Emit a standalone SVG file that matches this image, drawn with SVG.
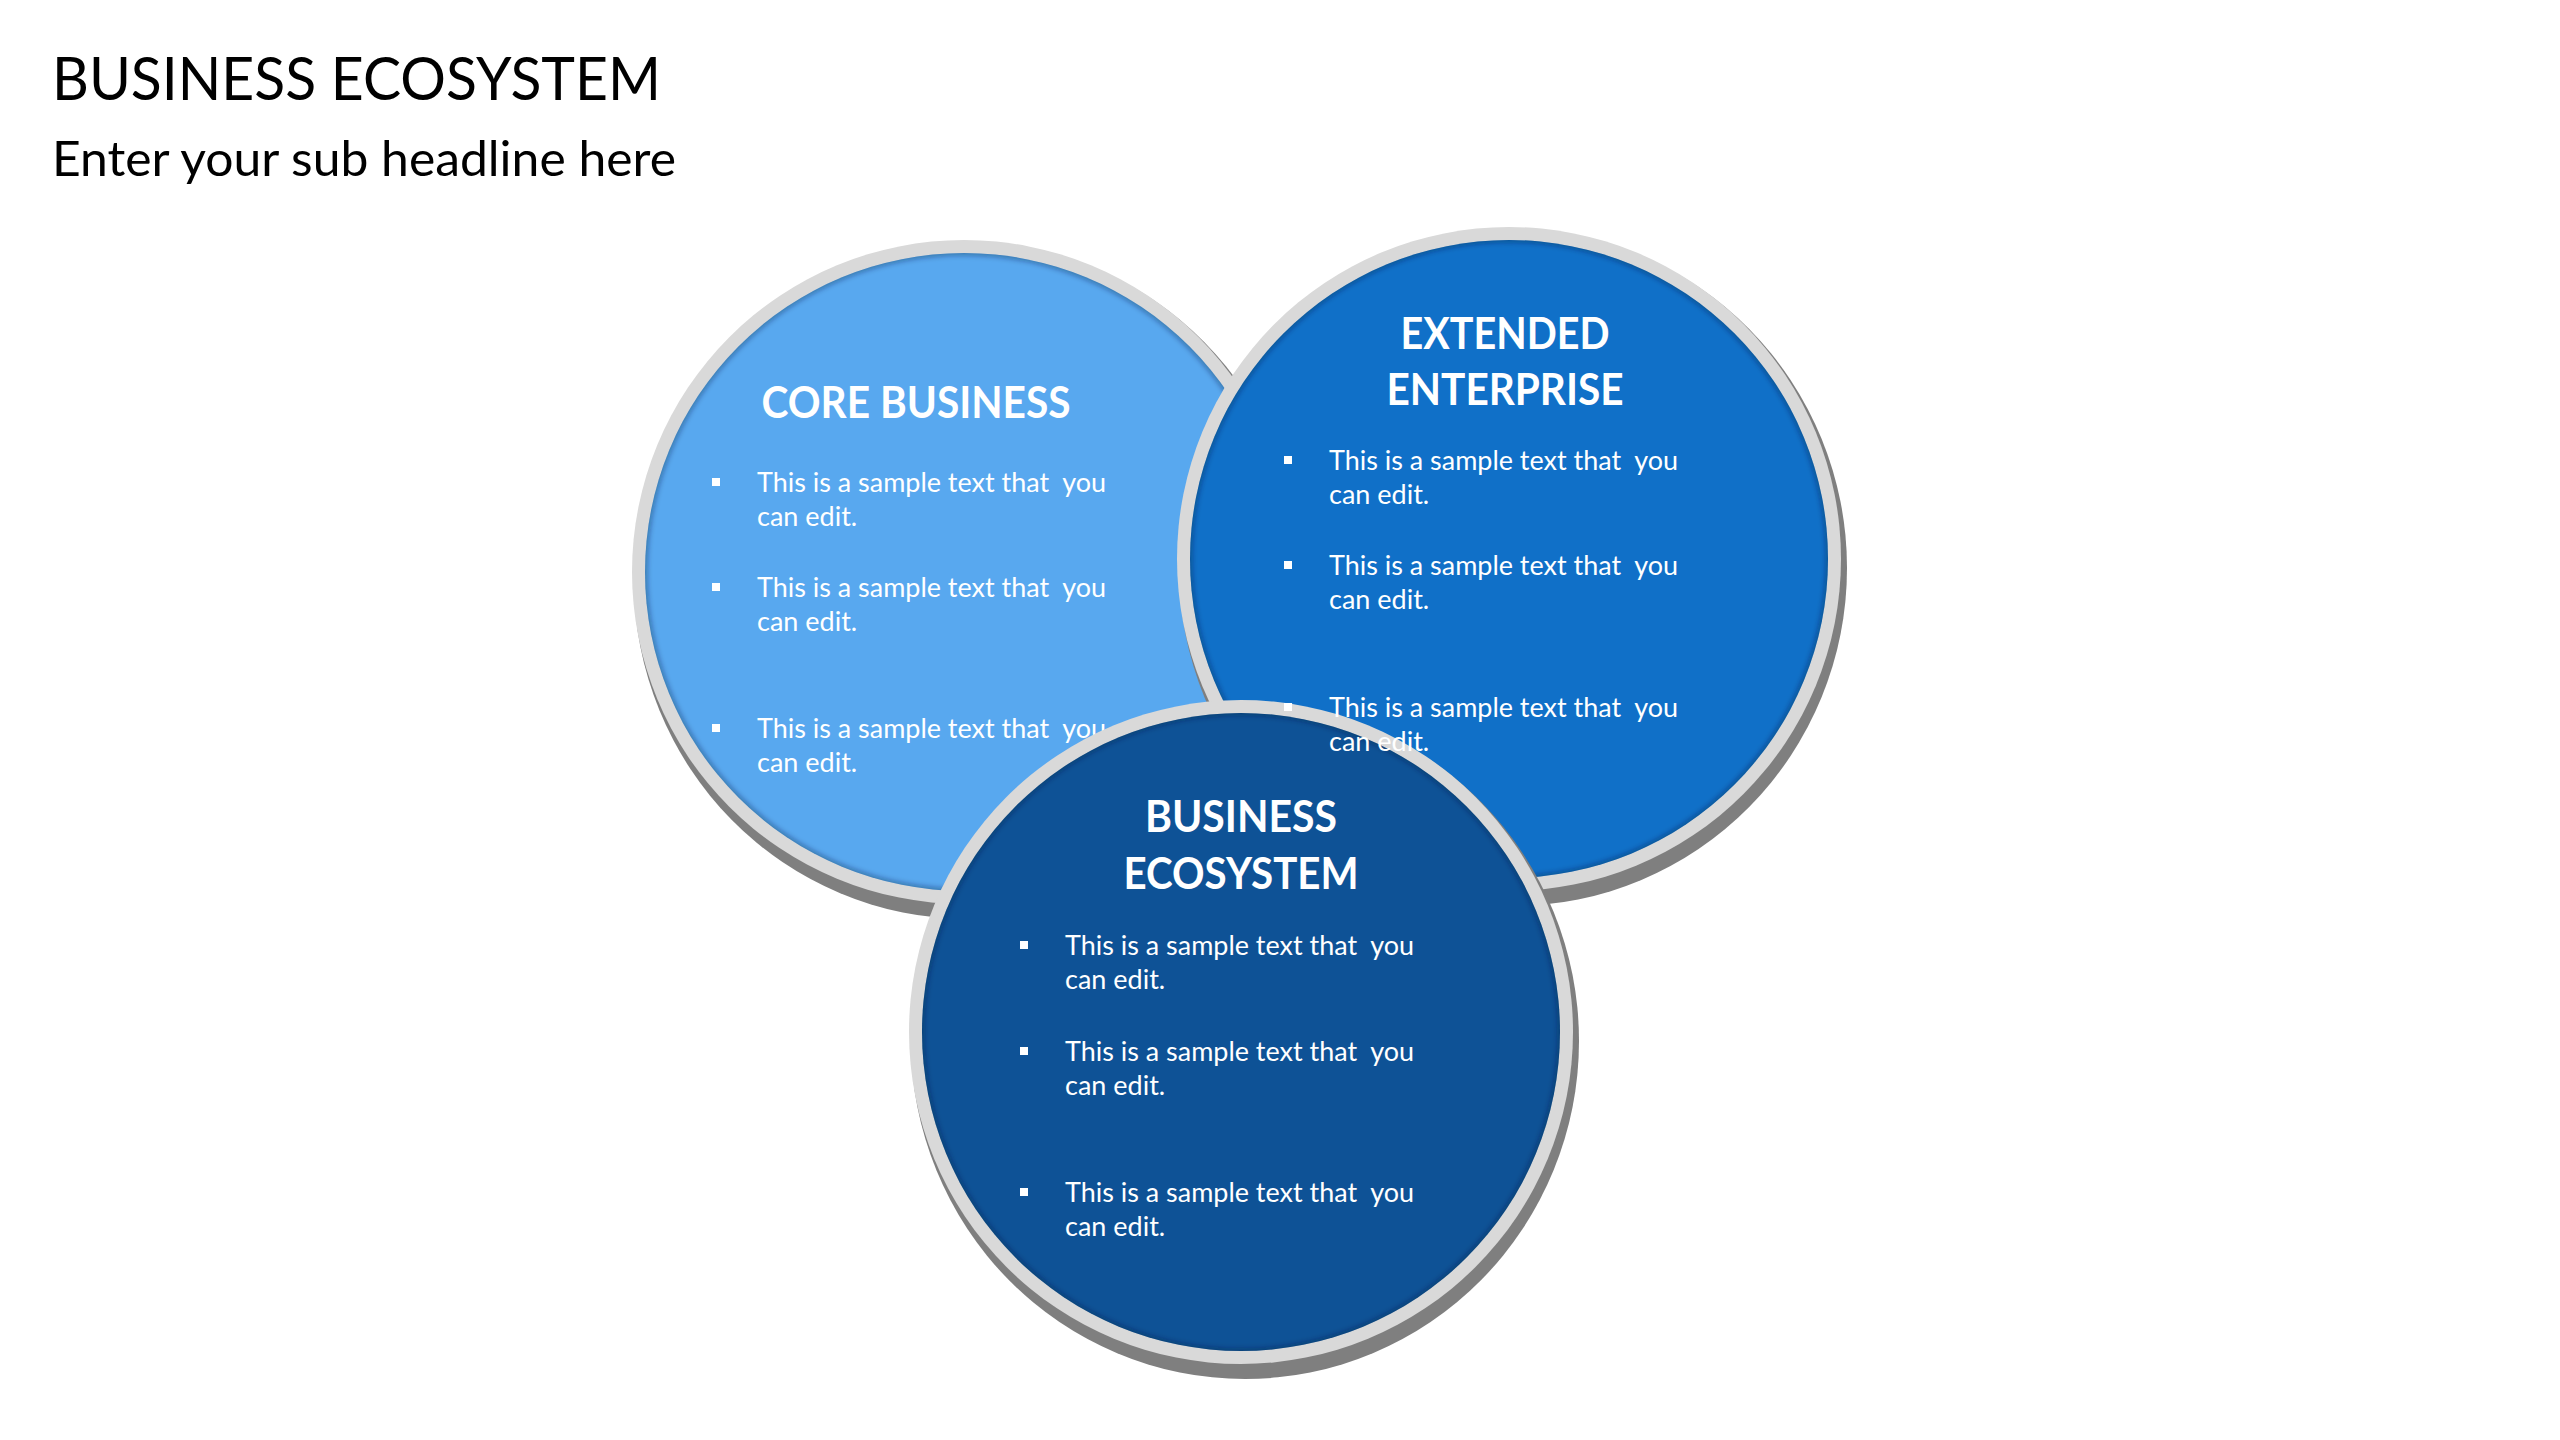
<svg xmlns="http://www.w3.org/2000/svg" width="2560" height="1440" viewBox="0 0 2560 1440">
  <defs>
    <style>
      .title { font-family: Lato, "Liberation Sans", sans-serif; fill: #000; }
      .head { font-family: Lato, "Liberation Sans", sans-serif; font-weight: bold; font-size: 43px; fill: #fff; text-anchor: middle; }
      .body { font-family: Lato, "Liberation Sans", sans-serif; font-size: 27px; fill: #fff; white-space: pre; }
      .bullet { fill: #fff; }
      .ring { fill: #D9D9D9; }
      .shadow { fill: #7F7F7F; }
      .inner-shade { fill: none; stroke: #00203f; stroke-opacity: 0.35; stroke-width: 7; }
    </style>
    <filter id="blur" x="-10%" y="-10%" width="120%" height="120%">
      <feGaussianBlur stdDeviation="2.5"/>
    </filter>
    <clipPath id="clipCore"><circle cx="964" cy="572" r="319"/></clipPath>
    <clipPath id="clipExt"><circle cx="1509" cy="559" r="319"/></clipPath>
    <clipPath id="clipEco"><circle cx="1241" cy="1032" r="319"/></clipPath>
  </defs>

  <rect width="2560" height="1440" fill="#fff"/>

  <g id="header">
    <text class="title" x="52" y="100" font-size="60" textLength="609" lengthAdjust="spacingAndGlyphs">BUSINESS ECOSYSTEM</text>
    <text class="title" x="52" y="176" font-size="48" textLength="624" lengthAdjust="spacingAndGlyphs">Enter your sub headline here</text>
  </g>

  <g id="core-business">
    <ellipse class="shadow" cx="968" cy="581" rx="334" ry="338"/>
    <circle class="ring" cx="964" cy="572" r="332"/>
    <circle cx="964" cy="572" r="319" fill="#58A8EF"/>
    <g clip-path="url(#clipCore)"><circle class="inner-shade" cx="964" cy="572" r="320" filter="url(#blur)"/></g>
    <text class="head" x="916" y="418" textLength="309" lengthAdjust="spacingAndGlyphs">CORE BUSINESS</text>
    <rect class="bullet" x="712" y="478" width="8" height="8"/>
    <text class="body" x="757" y="492" textLength="349" lengthAdjust="spacingAndGlyphs">This is a sample text that  you</text>
    <text class="body" x="757" y="526">can edit.</text>
    <rect class="bullet" x="712" y="583" width="8" height="8"/>
    <text class="body" x="757" y="597" textLength="349" lengthAdjust="spacingAndGlyphs">This is a sample text that  you</text>
    <text class="body" x="757" y="631">can edit.</text>
    <rect class="bullet" x="712" y="724" width="8" height="8"/>
    <text class="body" x="757" y="738" textLength="349" lengthAdjust="spacingAndGlyphs">This is a sample text that  you</text>
    <text class="body" x="757" y="772">can edit.</text>
  </g>

  <g id="extended-enterprise">
    <ellipse class="shadow" cx="1513" cy="568" rx="334" ry="338"/>
    <circle class="ring" cx="1509" cy="559" r="332"/>
    <circle cx="1509" cy="559" r="319" fill="#1070C8"/>
    <g clip-path="url(#clipExt)"><circle class="inner-shade" cx="1509" cy="559" r="320" filter="url(#blur)"/></g>
  </g>

  <g id="business-ecosystem">
    <ellipse class="shadow" cx="1245" cy="1041" rx="334" ry="338"/>
    <circle class="ring" cx="1241" cy="1032" r="332"/>
    <circle cx="1241" cy="1032" r="319" fill="#0E5296"/>
    <g clip-path="url(#clipEco)"><circle class="inner-shade" cx="1241" cy="1032" r="320" filter="url(#blur)"/></g>
    <text class="head" x="1241" y="832" textLength="192" lengthAdjust="spacingAndGlyphs">BUSINESS</text>
    <text class="head" x="1241" y="889" textLength="235" lengthAdjust="spacingAndGlyphs">ECOSYSTEM</text>
    <rect class="bullet" x="1020" y="941" width="8" height="8"/>
    <text class="body" x="1065" y="955" textLength="349" lengthAdjust="spacingAndGlyphs">This is a sample text that  you</text>
    <text class="body" x="1065" y="989">can edit.</text>
    <rect class="bullet" x="1020" y="1047" width="8" height="8"/>
    <text class="body" x="1065" y="1061" textLength="349" lengthAdjust="spacingAndGlyphs">This is a sample text that  you</text>
    <text class="body" x="1065" y="1095">can edit.</text>
    <rect class="bullet" x="1020" y="1188" width="8" height="8"/>
    <text class="body" x="1065" y="1202" textLength="349" lengthAdjust="spacingAndGlyphs">This is a sample text that  you</text>
    <text class="body" x="1065" y="1236">can edit.</text>
  </g>

  <g id="extended-enterprise-text">
    <text class="head" x="1505" y="349" textLength="209" lengthAdjust="spacingAndGlyphs">EXTENDED</text>
    <text class="head" x="1505" y="405" textLength="237" lengthAdjust="spacingAndGlyphs">ENTERPRISE</text>
    <rect class="bullet" x="1284" y="456" width="8" height="8"/>
    <text class="body" x="1329" y="470" textLength="349" lengthAdjust="spacingAndGlyphs">This is a sample text that  you</text>
    <text class="body" x="1329" y="504">can edit.</text>
    <rect class="bullet" x="1284" y="561" width="8" height="8"/>
    <text class="body" x="1329" y="575" textLength="349" lengthAdjust="spacingAndGlyphs">This is a sample text that  you</text>
    <text class="body" x="1329" y="609">can edit.</text>
    <rect class="bullet" x="1284" y="703" width="8" height="8"/>
    <text class="body" x="1329" y="717" textLength="349" lengthAdjust="spacingAndGlyphs">This is a sample text that  you</text>
    <text class="body" x="1329" y="751">can edit.</text>
  </g>

  <g id="connectors"></g>
</svg>
